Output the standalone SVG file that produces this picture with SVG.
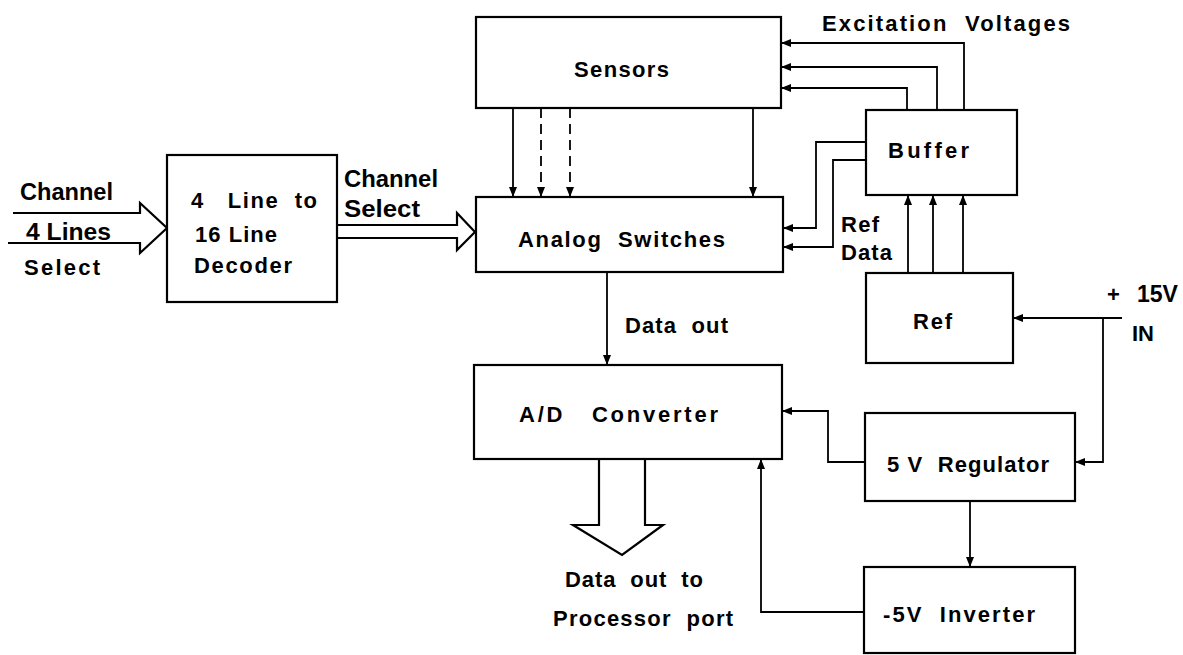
<svg xmlns="http://www.w3.org/2000/svg" width="1183" height="655" viewBox="0 0 1183 655">
  <style>
    .box { fill: #fff; stroke: #000; stroke-width: 2.2; }
    .wire { fill: none; stroke: #000; stroke-width: 1.8; }
    .bus { fill: none; stroke: #000; stroke-width: 2.2; stroke-linejoin: miter; }
    .dash { stroke-dasharray: 10 6; }
    text { font-family: "Liberation Sans", Arial, sans-serif; font-weight: bold; font-size: 22px; fill: #000; }
    .big { font-size: 23px; }
  </style>
  <defs>
    <marker id="arr" viewBox="0 0 10 10" refX="10" refY="5" markerWidth="10" markerHeight="10" markerUnits="userSpaceOnUse" orient="auto">
      <path d="M0,1 L10,5 L0,9 Z" fill="#000"/>
    </marker>
  </defs>

  <rect width="1183" height="655" fill="#fff"/>

  <!-- connectors -->
  <g id="connectors">
    <!-- sensor outputs into the switches -->
    <path class="wire" d="M513,108 V197" marker-end="url(#arr)"/>
    <path class="wire dash" d="M541,108 V197" marker-end="url(#arr)"/>
    <path class="wire dash" d="M570,108 V197" marker-end="url(#arr)"/>
    <path class="wire" d="M753,108 V197" marker-end="url(#arr)"/>
    <!-- excitation voltages from the buffer -->
    <path class="wire" d="M964,110 V43 H781" marker-end="url(#arr)"/>
    <path class="wire" d="M937,110 V67 H781" marker-end="url(#arr)"/>
    <path class="wire" d="M907,110 V88 H781" marker-end="url(#arr)"/>
    <!-- reference data to the switches -->
    <path class="wire" d="M866,142 H816 V228 H783" marker-end="url(#arr)"/>
    <path class="wire" d="M866,160 H833 V247 H783" marker-end="url(#arr)"/>
    <!-- ref into buffer -->
    <path class="wire" d="M908,273 V195" marker-end="url(#arr)"/>
    <path class="wire" d="M933,273 V195" marker-end="url(#arr)"/>
    <path class="wire" d="M963,273 V195" marker-end="url(#arr)"/>
    <!-- +15V supply -->
    <path class="wire" d="M1122,318 H1013" marker-end="url(#arr)"/>
    <path class="wire" d="M1103,318 V462 H1075" marker-end="url(#arr)"/>
    <!-- data out to converter -->
    <path class="wire" d="M607,272 V365" marker-end="url(#arr)"/>
    <!-- regulator to converter -->
    <path class="wire" d="M865,462 H828 V411 H782" marker-end="url(#arr)"/>
    <!-- regulator to inverter -->
    <path class="wire" d="M970,501 V567" marker-end="url(#arr)"/>
    <!-- inverter to converter -->
    <path class="wire" d="M864,612 H761 V459" marker-end="url(#arr)"/>
    <!-- bus arrows -->
    <polyline class="bus" points="13,213 140,213 140,203 167,228 140,253 140,243 8,243"/>
    <polyline class="bus" points="337,225 457,225 457,213 475,232 457,250 457,238 337,238"/>
    <polyline class="bus" points="599,459 599,525 573,525 622,555 663,525 645,525 645,459"/>
  </g>

  <!-- free labels -->
  <g id="labels">
    <text class="big" x="20" y="200" textLength="93" lengthAdjust="spacingAndGlyphs">Channel</text>
    <text class="big" x="26" y="240" textLength="85" lengthAdjust="spacingAndGlyphs">4 Lines</text>
    <text x="24" y="275" textLength="76" lengthAdjust="spacing">Select</text>
    <text class="big" x="344" y="187" textLength="94" lengthAdjust="spacingAndGlyphs">Channel</text>
    <text class="big" x="344" y="217" textLength="76" lengthAdjust="spacingAndGlyphs">Select</text>
    <text x="822" y="31" textLength="248" lengthAdjust="spacing" xml:space="preserve">Excitation  Voltages</text>
    <text x="841" y="232" textLength="38" lengthAdjust="spacing">Ref</text>
    <text x="841" y="260" textLength="51" lengthAdjust="spacing">Data</text>
    <text x="625" y="333" textLength="103" lengthAdjust="spacing" xml:space="preserve">Data  out</text>
    <text x="565" y="587" textLength="138" lengthAdjust="spacing" xml:space="preserve">Data  out  to</text>
    <text x="553" y="626" textLength="180" lengthAdjust="spacing" xml:space="preserve">Processor  port</text>
    <text x="1107" y="302">+</text>
    <text class="big" x="1137" y="302" textLength="41" lengthAdjust="spacingAndGlyphs">15V</text>
    <text x="1132" y="341">IN</text>
  </g>

  <!-- nodes -->
  <g id="decoder">
    <rect class="box" x="167" y="155" width="170" height="147"/>
    <text x="191" y="208" textLength="126" lengthAdjust="spacing" xml:space="preserve">4   Line  to</text>
    <text x="195" y="242" textLength="82" lengthAdjust="spacing">16 Line</text>
    <text x="194" y="273" textLength="98" lengthAdjust="spacing">Decoder</text>
  </g>
  <g id="sensors">
    <rect class="box" x="476" y="17" width="305" height="91"/>
    <text x="574" y="77" textLength="95" lengthAdjust="spacing">Sensors</text>
  </g>
  <g id="analog-switches">
    <rect class="box" x="476" y="197" width="307" height="75"/>
    <text x="518" y="247" textLength="207" lengthAdjust="spacing" xml:space="preserve">Analog  Switches</text>
  </g>
  <g id="buffer">
    <rect class="box" x="866" y="110" width="151" height="85"/>
    <text x="888" y="158" textLength="81" lengthAdjust="spacing">Buffer</text>
  </g>
  <g id="ref">
    <rect class="box" x="866" y="273" width="147" height="90"/>
    <text x="913" y="329" textLength="39" lengthAdjust="spacing">Ref</text>
  </g>
  <g id="ad-converter">
    <rect class="box" x="474" y="365" width="308" height="94"/>
    <text x="519" y="422" textLength="199" lengthAdjust="spacing" xml:space="preserve">A/D   Converter</text>
  </g>
  <g id="regulator">
    <rect class="box" x="865" y="413" width="210" height="88"/>
    <text x="887" y="472" textLength="162" lengthAdjust="spacing" xml:space="preserve">5 V  Regulator</text>
  </g>
  <g id="inverter">
    <rect class="box" x="864" y="567" width="211" height="86"/>
    <text x="883" y="622" textLength="152" lengthAdjust="spacing" xml:space="preserve">-5V  Inverter</text>
  </g>
</svg>
